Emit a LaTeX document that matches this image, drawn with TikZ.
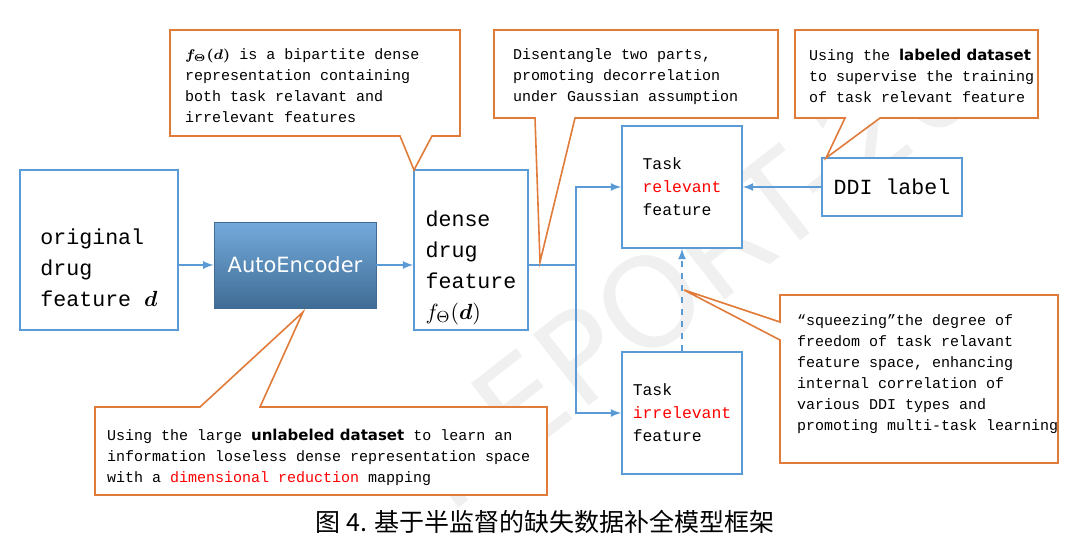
\documentclass[tikz,border=0pt]{standalone}
\usepackage{amsmath,bm}
\usepackage{fontspec}
\setmonofont{Liberation Mono}
\setsansfont{DejaVu Sans}
\newfontfamily\cjk{Noto Sans CJK SC}
\usetikzlibrary{positioning}
\definecolor{bl}{HTML}{5B9BD5}
\definecolor{og}{HTML}{E07B39}
\begin{document}
\begin{tikzpicture}[x=0.5pt,y=-0.5pt]
 		\tikzstyle{blk}=[rectangle, draw=bl, thick, fill=white, inner sep=3pt]
 		\tikzstyle{connect}=[-latex, thick, draw=bl]
 		\tikzstyle{callout}=[draw=og, thick, fill=white]
 		\tikzstyle{note}=[font=\ttfamily\fontsize{7.5}{10.5}\selectfont, align=left, anchor=north west]
 		\tikzstyle{big}=[font=\ttfamily\fontsize{10.8}{15.5}\selectfont, align=left]
 		\useasboundingbox (0,0) rectangle (1080,548);
 		\node[text=black!6, rotate=38, font=\sffamily\fontsize{62}{62}\selectfont] (wm) at (690,270) {REPORT-20};
 		% boxes
 		\node[blk, minimum width=79pt, minimum height=80pt] (orig) at (99,250) {};
 		\node[big] (origtxt) at (99,268) {original\\drug\\feature $\bm{d}$};
 		\node[rectangle, draw=bl!70!black, top color=bl!85, bottom color=bl!70!black, minimum width=81pt, minimum height=43pt, text=white, font=\sffamily\fontsize{10.5}{13}\selectfont] (ae) at (295,265) {AutoEncoder};
 		\node[blk, minimum width=57pt, minimum height=80pt] (dense) at (471,250) {};
 		\node[big] (densetxt) at (471,268) {dense\\drug\\feature\\ $f_\Theta(\bm{d})$};
 		\node[blk, minimum width=60pt, minimum height=61pt, font=\ttfamily\fontsize{8.2}{11.5}\selectfont, align=left] (rel) at (682,187) {Task\\\textcolor{red}{relevant}\\feature};
 		\node[blk, minimum width=70pt, minimum height=29pt, font=\ttfamily\fontsize{10.8}{14}\selectfont] (ddi) at (892,187) {DDI label};
 		\node[blk, minimum width=60pt, minimum height=61pt, font=\ttfamily\fontsize{8.2}{11.5}\selectfont, align=left] (irr) at (682,413) {Task\\\textcolor{red}{irrelevant}\\feature};
 		\coordinate (split) at (576,265);
 		% connectors
 		\path (orig.east |- ae) edge [connect] (ae)
 			(ae) edge [connect] (dense.west |- ae) ;
 		\draw[thick, draw=bl] (dense.east |- ae) -- (split);
 		\draw[connect] (split) |- (rel.west);
 		\draw[connect] (split) |- (irr.west);
 		\draw[connect] (ddi) -- (rel);
 		\draw[connect, dashed] (irr.north) -- (rel.south);
 		% callouts
 		\draw[callout] (170,30) -- (460,30) -- (460,136) -- (432,136) -- (414,170) -- (400,136) -- (170,136) -- cycle;
 		\node[note] (n1) at (178,42) {$\bm{f_\Theta(d)}$ is a bipartite dense\\representation containing\\both task relavant and\\irrelevant features};
 		\draw[callout] (494,30) -- (778,30) -- (778,118) -- (575,118) -- (540,262) -- (535,118) -- (494,118) -- cycle;
 		\node[note] (n2) at (506,42) {Disentangle two parts,\\promoting decorrelation\\under Gaussian assumption};
 		\draw[callout] (795,30) -- (1038,30) -- (1038,118) -- (880,118) -- (826,158) -- (845,118) -- (795,118) -- cycle;
 		\node[note] (n3) at (802,42) {Using the \textsf{\bfseries labeled dataset}\\to supervise the training\\of task relevant feature};
 		\draw[callout] (95,407) -- (200,407) -- (303,312) -- (260,407) -- (547,407) -- (547,495) -- (95,495) -- cycle;
 		\node[note] (n4) at (100,422) {Using the large \textsf{\bfseries unlabeled dataset} to learn an\\information loseless dense representation space\\with a \textcolor{red}{dimensional reduction} mapping};
 		\draw[callout] (780,295) -- (1058,295) -- (1058,463) -- (780,463) -- (780,340) -- (684,290) -- (780,322) -- cycle;
 		\node[note] (n5) at (790,308) {\char"201C squeezing\char"201D the degree of\\freedom of task relavant\\feature space, enhancing\\internal correlation of\\various DDI types and\\promoting multi-task learning};
 		\node[font=\cjk\fontsize{12.5}{15}\selectfont] (cap) at (545,522) {图 4. 基于半监督的缺失数据补全模型框架};
\end{tikzpicture}
\end{document}
